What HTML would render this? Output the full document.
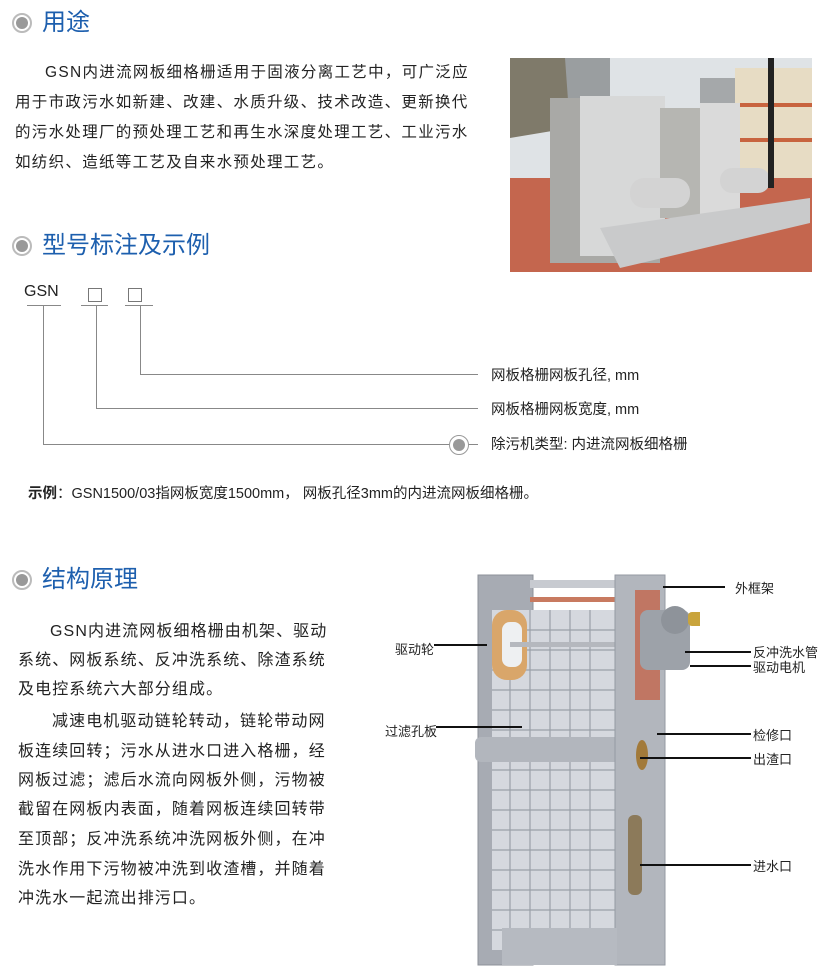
<!DOCTYPE html>
<html><head><meta charset="utf-8"><style>
*{margin:0;padding:0;box-sizing:border-box}
body{width:825px;height:977px;background:#fff;position:relative;overflow:hidden;font-family:"Liberation Sans","Noto Sans CJK SC",sans-serif;color:#222}
.a{position:absolute;white-space:nowrap}
.h{font-size:24px;color:#1d5fae;line-height:30px}
.ic{position:absolute;width:20px;height:20px;border-radius:50%;border:2px solid #bbb;background:#fff}
.ic::after{content:"";position:absolute;left:2px;top:2px;width:12px;height:12px;border-radius:50%;background:#999}
.t{font-size:15.5px;letter-spacing:1.3px;line-height:20px}
.u{font-size:16px;letter-spacing:1.1px;line-height:20px}
.l{position:absolute;background:#888}
.k{position:absolute;background:#111;height:2px}
.s{font-size:13px;color:#222}
</style></head><body>

<div class="ic" style="left:12px;top:13px"></div>
<div class="a h" style="left:42px;top:8px">用途</div>
<div class="a t" style="left:45px;top:63px">GSN内进流网板细格栅适用于固液分离工艺中，可广泛应</div>
<div class="a t" style="left:15px;top:93px">用于市政污水如新建、改建、水质升级、技术改造、更新换代</div>
<div class="a t" style="left:15px;top:123px">的污水处理厂的预处理工艺和再生水深度处理工艺、工业污水</div>
<div class="a t" style="left:15px;top:153px">如纺织、造纸等工艺及自来水预处理工艺。</div>

<svg class="a" style="left:510px;top:58px" width="302" height="214" viewBox="0 0 302 214">
<rect width="302" height="214" fill="#dfe3e6"/>
<rect x="50" y="0" width="50" height="40" fill="#9a9ea0"/>
<rect x="190" y="20" width="35" height="40" fill="#a5a8aa"/>
<path d="M0 0 L55 0 L60 70 L0 80Z" fill="#7f7a6a"/>
<rect x="225" y="10" width="77" height="110" fill="#e7dcc4"/>
<rect x="225" y="45" width="77" height="4" fill="#c8643f"/>
<rect x="225" y="80" width="77" height="4" fill="#c8643f"/>
<rect x="0" y="120" width="302" height="94" fill="#c4664e"/>
<rect x="40" y="40" width="110" height="165" fill="#a9a9a6"/>
<rect x="70" y="38" width="85" height="160" fill="#d7d8d8"/>
<rect x="150" y="50" width="70" height="110" fill="#b6b6b2"/>
<rect x="190" y="45" width="40" height="115" fill="#dadada"/>
<rect x="120" y="120" width="60" height="30" rx="14" fill="#d3d3d3"/>
<rect x="210" y="110" width="50" height="25" rx="12" fill="#d3d3d3"/>
<path d="M90 170 L300 140 L300 165 L110 210Z" fill="#c9cacb"/>
<rect x="258" y="0" width="6" height="130" fill="#222"/>
</svg>

<div class="ic" style="left:12px;top:236px"></div>
<div class="a h" style="left:42px;top:231px">型号标注及示例</div>

<div class="a" style="left:24px;top:283px;font-size:16px">GSN</div>
<div class="a" style="left:88px;top:288px;width:14px;height:14px;border:1px solid #777"></div>
<div class="a" style="left:128px;top:288px;width:14px;height:14px;border:1px solid #777"></div>
<div class="l" style="left:27px;top:305px;width:34px;height:1px"></div>
<div class="l" style="left:81px;top:305px;width:27px;height:1px"></div>
<div class="l" style="left:125px;top:305px;width:28px;height:1px"></div>
<div class="l" style="left:43px;top:305px;width:1px;height:140px"></div>
<div class="l" style="left:43px;top:444px;width:435px;height:1px"></div>
<div class="l" style="left:96px;top:305px;width:1px;height:104px"></div>
<div class="l" style="left:96px;top:408px;width:382px;height:1px"></div>
<div class="l" style="left:140px;top:305px;width:1px;height:70px"></div>
<div class="l" style="left:140px;top:374px;width:338px;height:1px"></div>
<div class="a" style="left:449px;top:435px;width:20px;height:20px;border-radius:50%;border:1px solid #999;background:#fff"></div>
<div class="a" style="left:453px;top:439px;width:12px;height:12px;border-radius:50%;background:#999"></div>
<div class="a" style="left:491px;top:364px;font-size:14.5px">网板格栅网板孔径, mm</div>
<div class="a" style="left:491px;top:398px;font-size:14.5px">网板格栅网板宽度, mm</div>
<div class="a" style="left:491px;top:433px;font-size:14.5px">除污机类型: 内进流网板细格栅</div>
<div class="a" style="left:28px;top:482px;font-size:14.5px"><b>示例</b>：GSN1500/03指网板宽度1500mm， 网板孔径3mm的内进流网板细格栅。</div>

<div class="ic" style="left:12px;top:570px"></div>
<div class="a h" style="left:42px;top:565px">结构原理</div>
<div class="a u" style="left:50px;top:622px">GSN内进流网板细格栅由机架、驱动</div>
<div class="a u" style="left:18px;top:651px">系统、网板系统、反冲洗系统、除渣系统</div>
<div class="a u" style="left:18px;top:680px">及电控系统六大部分组成。</div>
<div class="a u" style="left:52px;top:712px">减速电机驱动链轮转动，链轮带动网</div>
<div class="a u" style="left:18px;top:742px">板连续回转；污水从进水口进入格栅，经</div>
<div class="a u" style="left:18px;top:771px">网板过滤；滤后水流向网板外侧，污物被</div>
<div class="a u" style="left:18px;top:800px">截留在网板内表面，随着网板连续回转带</div>
<div class="a u" style="left:18px;top:830px">至顶部；反冲洗系统冲洗网板外侧，在冲</div>
<div class="a u" style="left:18px;top:860px">洗水作用下污物被冲洗到收渣槽，并随着</div>
<div class="a u" style="left:18px;top:889px">冲洗水一起流出排污口。</div>

<svg class="a" style="left:470px;top:560px" width="230" height="417" viewBox="0 0 230 417">
<rect x="8" y="15" width="55" height="390" fill="#a7abb3"/>
<rect x="8" y="15" width="55" height="390" fill="none" stroke="#8c9098"/>
<rect x="60" y="20" width="85" height="8" fill="#c7cad0"/>
<rect x="60" y="37" width="85" height="5" fill="#c87a60"/>
<rect x="22" y="50" width="125" height="340" fill="#d5d8de"/>
<g stroke="#9aa0a8" stroke-width="1.2">
<line x1="22" y1="70" x2="147" y2="70"/><line x1="22" y1="90" x2="147" y2="90"/>
<line x1="22" y1="110" x2="147" y2="110"/><line x1="22" y1="130" x2="147" y2="130"/>
<line x1="22" y1="150" x2="147" y2="150"/><line x1="22" y1="170" x2="147" y2="170"/>
<line x1="22" y1="210" x2="147" y2="210"/><line x1="22" y1="230" x2="147" y2="230"/>
<line x1="22" y1="250" x2="147" y2="250"/><line x1="22" y1="270" x2="147" y2="270"/>
<line x1="22" y1="290" x2="147" y2="290"/><line x1="22" y1="310" x2="147" y2="310"/>
<line x1="22" y1="330" x2="147" y2="330"/><line x1="22" y1="350" x2="147" y2="350"/>
<line x1="22" y1="370" x2="147" y2="370"/>
<line x1="40" y1="50" x2="40" y2="390"/><line x1="60" y1="50" x2="60" y2="390"/>
<line x1="80" y1="50" x2="80" y2="390"/><line x1="100" y1="50" x2="100" y2="390"/>
<line x1="120" y1="50" x2="120" y2="390"/>
</g>
<rect x="22" y="50" width="35" height="70" rx="15" fill="#d9a66a"/>
<rect x="32" y="62" width="20" height="45" rx="8" fill="#eef0f2"/>
<rect x="40" y="82" width="105" height="5" fill="#b5b8be"/>
<rect x="5" y="177" width="150" height="25" rx="6" fill="#b2b6bd"/>
<rect x="145" y="15" width="50" height="390" fill="#b2b6bd"/>
<rect x="145" y="15" width="50" height="390" fill="none" stroke="#949aa2"/>
<rect x="32" y="368" width="115" height="37" fill="#b6bac1"/>
<rect x="165" y="30" width="25" height="110" fill="#c07663"/>
<rect x="170" y="50" width="50" height="60" rx="8" fill="#9da2a9"/>
<circle cx="205" cy="60" r="14" fill="#8e939a"/>
<rect x="218" y="52" width="18" height="14" rx="4" fill="#c9a43c"/>
<ellipse cx="172" cy="195" rx="6" ry="15" fill="#a27a3a"/>
<rect x="158" y="255" width="14" height="80" rx="6" fill="#8c7a5a"/>
</svg>

<div class="k" style="left:663px;top:586px;width:62px"></div>
<div class="a s" style="left:735px;top:578px">外框架</div>
<div class="a s" style="left:395px;top:639px">驱动轮</div>
<div class="k" style="left:434px;top:644px;width:53px"></div>
<div class="a s" style="left:385px;top:721px">过滤孔板</div>
<div class="k" style="left:436px;top:726px;width:86px"></div>
<div class="k" style="left:685px;top:651px;width:66px"></div>
<div class="a s" style="left:753px;top:642px">反冲洗水管</div>
<div class="k" style="left:690px;top:665px;width:61px"></div>
<div class="a s" style="left:753px;top:657px">驱动电机</div>
<div class="k" style="left:657px;top:733px;width:94px"></div>
<div class="a s" style="left:753px;top:725px">检修口</div>
<div class="k" style="left:640px;top:757px;width:111px"></div>
<div class="a s" style="left:753px;top:749px">出渣口</div>
<div class="k" style="left:640px;top:864px;width:111px"></div>
<div class="a s" style="left:753px;top:856px">进水口</div>
</body></html>
